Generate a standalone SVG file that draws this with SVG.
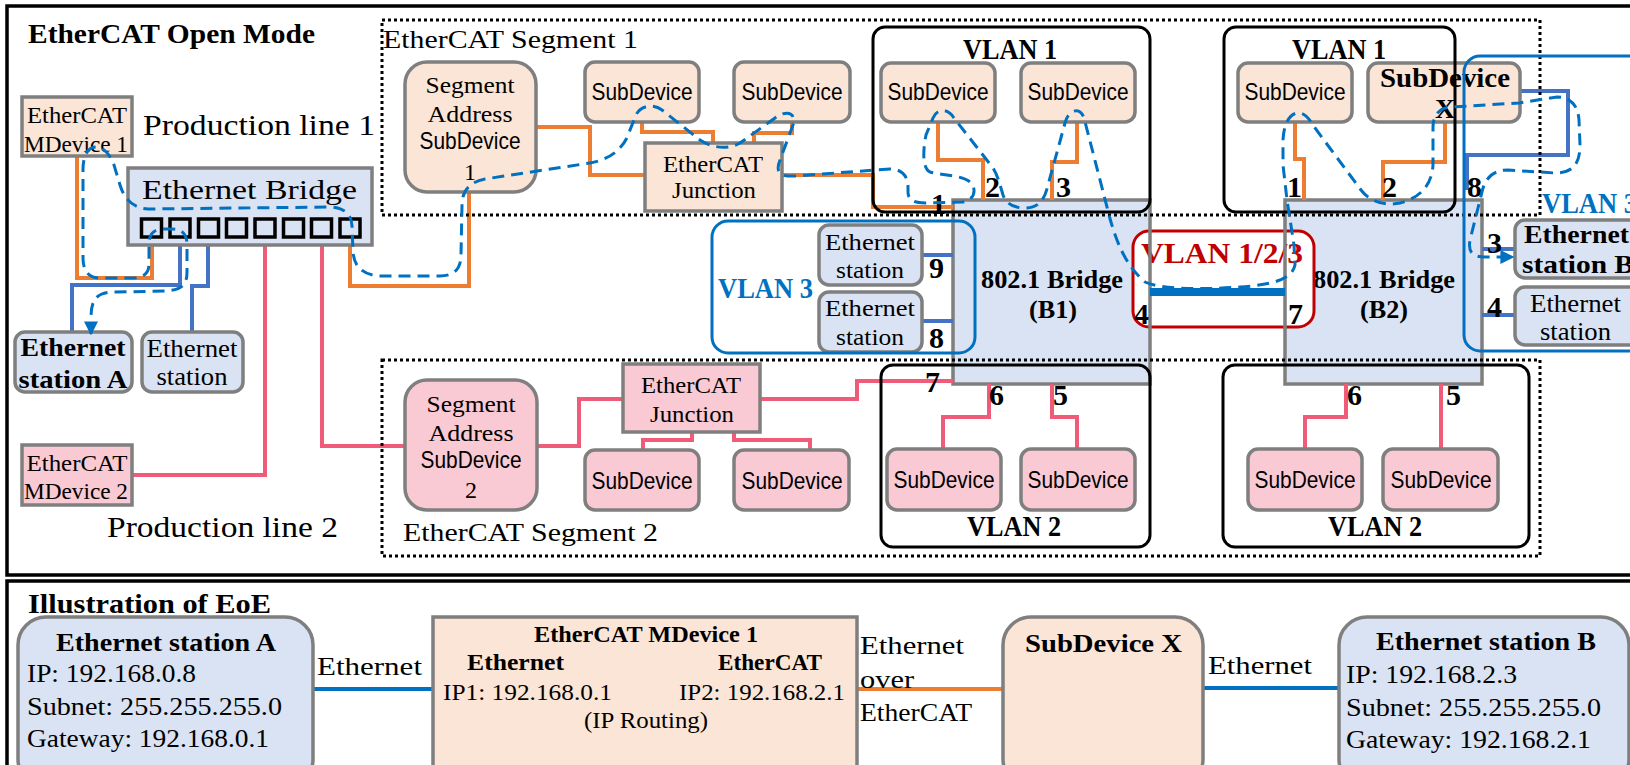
<svg xmlns="http://www.w3.org/2000/svg" width="1630" height="765" viewBox="0 0 1630 765">
<style>
.t{font-family:"Liberation Serif","Times New Roman",serif;fill:#000}
.s{font-family:"Liberation Sans",Arial,sans-serif;fill:#000}
.b{font-weight:bold}
.node{stroke:#7f7f7f;stroke-width:3.5}
.peach{fill:#fbe5d6}
.pink{fill:#f9cad3}
.lb{fill:#dae3f3}
.or{stroke:#ed7d31;stroke-width:4;fill:none}
.bl{stroke:#4472c4;stroke-width:4;fill:none}
.pk{stroke:#f05b7a;stroke-width:4;fill:none}
.dot{stroke:#000;stroke-width:3;stroke-dasharray:3 3;fill:none}
.vlan{stroke:#000;stroke-width:3;fill:none}
.vb{stroke:#0070c0;stroke-width:3;fill:none}
.flow{stroke:#0070c0;stroke-width:3;stroke-dasharray:12 7;fill:none}
.frame{stroke:#000;stroke-width:3.5;fill:none}
.port{stroke:#000;stroke-width:3.5;fill:none}
.num{font-family:"Liberation Serif","Times New Roman",serif;font-weight:bold;font-size:30px;fill:#000}
</style>
<defs>
<marker id="arr" viewBox="0 0 10 10" refX="9" refY="5" markerWidth="14" markerHeight="14" markerUnits="userSpaceOnUse" orient="auto-start-reverse">
<path d="M0,0 L10,5 L0,10 z" fill="#0070c0"/>
</marker>
</defs>
<rect width="1630" height="765" fill="#fff"/>
<!-- frames -->
<rect class="frame" x="7" y="6" width="1640" height="569"/>
<rect class="frame" x="7" y="581" width="1640" height="200"/>
<text class="t b" x="28" y="43" font-size="28" textLength="287" lengthAdjust="spacingAndGlyphs">EtherCAT Open Mode</text>
<text class="t" x="143" y="135" font-size="29" textLength="232" lengthAdjust="spacingAndGlyphs">Production line 1</text>
<text class="t" x="107" y="537" font-size="29" textLength="231" lengthAdjust="spacingAndGlyphs">Production line 2</text>
<text class="t" x="383" y="48" font-size="26" textLength="255" lengthAdjust="spacingAndGlyphs">EtherCAT Segment 1</text>
<text class="t" x="403" y="541" font-size="26" textLength="255" lengthAdjust="spacingAndGlyphs">EtherCAT Segment 2</text>

<!-- bridges fill + text -->
<g id="bridgeB1">
<rect x="953" y="200" width="197" height="184" class="lb"/>
<text class="t b" x="1052" y="288" font-size="25" text-anchor="middle" textLength="142" lengthAdjust="spacingAndGlyphs">802.1 Bridge</text>
<text class="t b" x="1053" y="318" font-size="25" text-anchor="middle" textLength="48" lengthAdjust="spacingAndGlyphs">(B1)</text>
</g>
<g id="bridgeB2">
<rect x="1285" y="200" width="197" height="184" class="lb"/>
<text class="t b" x="1384" y="288" font-size="25" text-anchor="middle" textLength="142" lengthAdjust="spacingAndGlyphs">802.1 Bridge</text>
<text class="t b" x="1384" y="318" font-size="25" text-anchor="middle" textLength="48" lengthAdjust="spacingAndGlyphs">(B2)</text>
</g>
<g id="vlan123">
<rect x="1133" y="231" width="181" height="96" rx="16" fill="#fff" stroke="#c00000" stroke-width="3"/>
<text class="t b" x="1141" y="263" font-size="29" style="fill:#c00000" textLength="162" lengthAdjust="spacingAndGlyphs">VLAN 1/2/3</text>
</g>
<rect x="953" y="200" width="197" height="184" fill="none" class="node"/>
<rect x="1285" y="200" width="197" height="184" fill="none" class="node"/>

<!-- connectors -->
<g id="connectors">
<path class="or" d="M77,156 V278 H152 V239"/>
<path class="bl" d="M180,239 V285 H72 V332"/>
<path class="bl" d="M208,239 V286 H192 V332"/>
<path class="pk" d="M265,239 V475 H132"/>
<path class="pk" d="M322,239 V446 H405"/>
<path class="or" d="M350,239 V286 H469 V192"/>
<path class="or" d="M536,127 H590 V175 H645"/>
<path class="or" d="M642,122 V132 H713 V143"/>
<path class="or" d="M792,122 V133 H754 V143"/>
<path class="or" d="M782,175 H873 V207 H953"/>
<path class="or" d="M938,122 V160 H983 V200"/>
<path class="or" d="M1077,122 V162 H1052 V200"/>
<path class="or" d="M1295,122 V159 H1304 V200"/>
<path class="or" d="M1445,122 V162 H1383 V200"/>
<path class="bl" d="M1520,91 H1568 V155 H1467 V190"/>
<path class="bl" d="M922,255 H953"/>
<path class="bl" d="M922,321 H953"/>
<path class="bl" d="M1482,249 H1515"/>
<path class="bl" d="M1482,315 H1515"/>
<path d="M1150,292 H1285" stroke="#0070c0" stroke-width="8" fill="none"/>
<path class="pk" d="M537,446 H579 V399 H623"/>
<path class="pk" d="M692,432 V440 H643 V450"/>
<path class="pk" d="M734,432 V440 H810 V450"/>
<path class="pk" d="M760,399 H857 V381 H953"/>
<path class="pk" d="M989,384 V417 H943 V449"/>
<path class="pk" d="M1052,384 V417 H1077 V449"/>
<path class="pk" d="M1346,384 V417 H1305 V449"/>
<path class="pk" d="M1441,384 V449"/>
<path d="M313,689 H433" stroke="#0070c0" stroke-width="4"/>
<path d="M857,689 H1003" stroke="#ed7d31" stroke-width="4"/>
<path d="M1203,688 H1339" stroke="#0070c0" stroke-width="4"/>
</g>

<!-- nodes -->
<g id="mdevice1">
<rect x="22" y="97" width="110" height="59" class="node peach"/>
<text class="t" x="77" y="123" font-size="24" text-anchor="middle" textLength="100" lengthAdjust="spacingAndGlyphs">EtherCAT</text>
<text class="t" x="76" y="152" font-size="24" text-anchor="middle" textLength="104" lengthAdjust="spacingAndGlyphs">MDevice 1</text>
</g>
<g id="mdevice2">
<rect x="22" y="445" width="110" height="60" class="node pink"/>
<text class="t" x="77" y="471" font-size="24" text-anchor="middle" textLength="101" lengthAdjust="spacingAndGlyphs">EtherCAT</text>
<text class="t" x="76" y="499" font-size="24" text-anchor="middle" textLength="104" lengthAdjust="spacingAndGlyphs">MDevice 2</text>
</g>
<g id="ethbridge">
<rect x="128" y="168" width="244" height="77" class="node lb"/>
<text class="t" x="142" y="199" font-size="28" textLength="215" lengthAdjust="spacingAndGlyphs">Ethernet Bridge</text>
<rect class="port" x="141.5" y="219" width="20" height="18"/>
<rect class="port" x="170" y="219" width="20" height="18"/>
<rect class="port" x="198.5" y="219" width="20" height="18"/>
<rect class="port" x="226.5" y="219" width="20" height="18"/>
<rect class="port" x="255" y="219" width="20" height="18"/>
<rect class="port" x="283.5" y="219" width="20" height="18"/>
<rect class="port" x="311.5" y="219" width="20" height="18"/>
<rect class="port" x="340" y="219" width="20" height="18"/>
</g>
<g id="stationA">
<rect x="15" y="332" width="117" height="60" rx="10" class="node lb"/>
<text class="t b" x="73" y="356" font-size="26" text-anchor="middle" textLength="105" lengthAdjust="spacingAndGlyphs">Ethernet</text>
<text class="t b" x="73" y="388" font-size="26" text-anchor="middle" textLength="109" lengthAdjust="spacingAndGlyphs">station A</text>
</g>
<g id="station1">
<rect x="142" y="332" width="101" height="60" rx="10" class="node lb"/>
<text class="t" x="192" y="357" font-size="26" text-anchor="middle" textLength="91" lengthAdjust="spacingAndGlyphs">Ethernet</text>
<text class="t" x="192" y="385" font-size="26" text-anchor="middle" textLength="71" lengthAdjust="spacingAndGlyphs">station</text>
</g>
<g id="segaddr1">
<rect x="405" y="62" width="131" height="130" rx="22" class="node peach"/>
<text class="t" x="470" y="93" font-size="24" text-anchor="middle" textLength="89" lengthAdjust="spacingAndGlyphs">Segment</text>
<text class="t" x="470" y="122" font-size="24" text-anchor="middle" textLength="85" lengthAdjust="spacingAndGlyphs">Address</text>
<text class="s" x="470" y="149" font-size="24" text-anchor="middle" textLength="101" lengthAdjust="spacingAndGlyphs">SubDevice</text>
<text class="t" x="470" y="180" font-size="24" text-anchor="middle">1</text>
</g>
<g id="sub1a">
<rect x="585" y="62" width="114" height="60" rx="10" class="node peach"/>
<text class="s" x="642" y="100" font-size="24" text-anchor="middle" textLength="101" lengthAdjust="spacingAndGlyphs">SubDevice</text>
</g>
<g id="sub1b">
<rect x="734" y="62" width="116" height="60" rx="10" class="node peach"/>
<text class="s" x="792" y="100" font-size="24" text-anchor="middle" textLength="101" lengthAdjust="spacingAndGlyphs">SubDevice</text>
</g>
<g id="junction1">
<rect x="645" y="143" width="137" height="68" class="node peach"/>
<text class="t" x="713" y="172" font-size="24" text-anchor="middle" textLength="100" lengthAdjust="spacingAndGlyphs">EtherCAT</text>
<text class="t" x="714" y="198" font-size="24" text-anchor="middle" textLength="84" lengthAdjust="spacingAndGlyphs">Junction</text>
</g>
<g id="b1sub1">
<rect x="881" y="63" width="114" height="59" rx="10" class="node peach"/>
<text class="s" x="938" y="100" font-size="24" text-anchor="middle" textLength="101" lengthAdjust="spacingAndGlyphs">SubDevice</text>
</g>
<g id="b1sub2">
<rect x="1021" y="63" width="114" height="59" rx="10" class="node peach"/>
<text class="s" x="1078" y="100" font-size="24" text-anchor="middle" textLength="101" lengthAdjust="spacingAndGlyphs">SubDevice</text>
</g>
<g id="b2sub1">
<rect x="1238" y="63" width="114" height="59" rx="10" class="node peach"/>
<text class="s" x="1295" y="100" font-size="24" text-anchor="middle" textLength="101" lengthAdjust="spacingAndGlyphs">SubDevice</text>
</g>
<g id="subX">
<rect x="1368" y="63" width="152" height="59" rx="10" class="node peach"/>
<text class="t b" x="1380" y="87" font-size="28" textLength="130" lengthAdjust="spacingAndGlyphs">SubDevice</text>
<text class="t b" x="1445" y="118" font-size="28" text-anchor="middle">X</text>
</g>
<g id="st9">
<rect x="819" y="225" width="103" height="60" rx="10" class="node lb"/>
<text class="t" x="870" y="250" font-size="24" text-anchor="middle" textLength="90" lengthAdjust="spacingAndGlyphs">Ethernet</text>
<text class="t" x="870" y="278" font-size="24" text-anchor="middle" textLength="68" lengthAdjust="spacingAndGlyphs">station</text>
</g>
<g id="st8">
<rect x="819" y="292" width="103" height="60" rx="10" class="node lb"/>
<text class="t" x="870" y="316" font-size="24" text-anchor="middle" textLength="90" lengthAdjust="spacingAndGlyphs">Ethernet</text>
<text class="t" x="870" y="345" font-size="24" text-anchor="middle" textLength="68" lengthAdjust="spacingAndGlyphs">station</text>
</g>
<g id="stationB">
<rect x="1515" y="220" width="140" height="58" rx="10" class="node lb"/>
<text class="t b" x="1524" y="243" font-size="26" textLength="105" lengthAdjust="spacingAndGlyphs">Ethernet</text>
<text class="t b" x="1522" y="273" font-size="26" textLength="112" lengthAdjust="spacingAndGlyphs">station B</text>
</g>
<g id="st4">
<rect x="1515" y="287" width="140" height="58" rx="10" class="node lb"/>
<text class="t" x="1530" y="312" font-size="26" textLength="91" lengthAdjust="spacingAndGlyphs">Ethernet</text>
<text class="t" x="1540" y="340" font-size="26" textLength="71" lengthAdjust="spacingAndGlyphs">station</text>
</g>
<g id="segaddr2">
<rect x="405" y="380" width="132" height="130" rx="22" class="node pink"/>
<text class="t" x="471" y="412" font-size="24" text-anchor="middle" textLength="89" lengthAdjust="spacingAndGlyphs">Segment</text>
<text class="t" x="471" y="441" font-size="24" text-anchor="middle" textLength="85" lengthAdjust="spacingAndGlyphs">Address</text>
<text class="s" x="471" y="468" font-size="24" text-anchor="middle" textLength="101" lengthAdjust="spacingAndGlyphs">SubDevice</text>
<text class="t" x="471" y="498" font-size="24" text-anchor="middle">2</text>
</g>
<g id="junction2">
<rect x="623" y="364" width="137" height="68" class="node pink"/>
<text class="t" x="691" y="393" font-size="24" text-anchor="middle" textLength="100" lengthAdjust="spacingAndGlyphs">EtherCAT</text>
<text class="t" x="692" y="422" font-size="24" text-anchor="middle" textLength="84" lengthAdjust="spacingAndGlyphs">Junction</text>
</g>
<g id="sub2a">
<rect x="585" y="450" width="114" height="60" rx="10" class="node pink"/>
<text class="s" x="642" y="489" font-size="24" text-anchor="middle" textLength="101" lengthAdjust="spacingAndGlyphs">SubDevice</text>
</g>
<g id="sub2b">
<rect x="734" y="450" width="115" height="60" rx="10" class="node pink"/>
<text class="s" x="792" y="489" font-size="24" text-anchor="middle" textLength="101" lengthAdjust="spacingAndGlyphs">SubDevice</text>
</g>
<g id="b1sub3">
<rect x="887" y="449" width="114" height="61" rx="10" class="node pink"/>
<text class="s" x="944" y="488" font-size="24" text-anchor="middle" textLength="101" lengthAdjust="spacingAndGlyphs">SubDevice</text>
</g>
<g id="b1sub4">
<rect x="1021" y="449" width="114" height="61" rx="10" class="node pink"/>
<text class="s" x="1078" y="488" font-size="24" text-anchor="middle" textLength="101" lengthAdjust="spacingAndGlyphs">SubDevice</text>
</g>
<g id="b2sub3">
<rect x="1248" y="449" width="114" height="61" rx="10" class="node pink"/>
<text class="s" x="1305" y="488" font-size="24" text-anchor="middle" textLength="101" lengthAdjust="spacingAndGlyphs">SubDevice</text>
</g>
<g id="b2sub4">
<rect x="1383" y="449" width="115" height="61" rx="10" class="node pink"/>
<text class="s" x="1441" y="488" font-size="24" text-anchor="middle" textLength="101" lengthAdjust="spacingAndGlyphs">SubDevice</text>
</g>

<!-- group boxes -->
<g id="groups">
<rect class="dot" x="382" y="20" width="1158" height="195"/>
<rect class="dot" x="382" y="360" width="1158" height="196"/>
<rect class="vlan" x="873" y="27" width="277" height="185" rx="12"/>
<rect class="vlan" x="1224" y="27" width="231" height="185" rx="12"/>
<rect class="vlan" x="881" y="365" width="269" height="182" rx="12"/>
<rect class="vlan" x="1223" y="365" width="306" height="182" rx="12"/>
<rect class="vb" x="712" y="221" width="263" height="132" rx="16"/>
<rect class="vb" x="1464" y="56" width="200" height="295" rx="16"/>
<text class="t b" x="963" y="59" font-size="29" textLength="94" lengthAdjust="spacingAndGlyphs">VLAN 1</text>
<text class="t b" x="1292" y="59" font-size="29" textLength="94" lengthAdjust="spacingAndGlyphs">VLAN 1</text>
<text class="t b" x="967" y="536" font-size="29" textLength="94" lengthAdjust="spacingAndGlyphs">VLAN 2</text>
<text class="t b" x="1328" y="536" font-size="29" textLength="94" lengthAdjust="spacingAndGlyphs">VLAN 2</text>
<text class="t b" x="718" y="298" font-size="29" style="fill:#0070c0" textLength="95" lengthAdjust="spacingAndGlyphs">VLAN 3</text>
<text class="t b" x="1542" y="213" font-size="29" style="fill:#0070c0" textLength="95" lengthAdjust="spacingAndGlyphs">VLAN 3</text>
</g>

<!-- port numbers -->
<g id="portlabels">
<text class="num" x="931" y="214">1</text>
<text class="num" x="985" y="197">2</text>
<text class="num" x="1056" y="197">3</text>
<text class="num" x="929" y="278">9</text>
<text class="num" x="929" y="348">8</text>
<text class="num" x="1134" y="324">4</text>
<text class="num" x="925" y="392">7</text>
<text class="num" x="989" y="405">6</text>
<text class="num" x="1053" y="405">5</text>
<text class="num" x="1287" y="197">1</text>
<text class="num" x="1382" y="197">2</text>
<text class="num" x="1467" y="197">8</text>
<text class="num" x="1487" y="253">3</text>
<text class="num" x="1487" y="317">4</text>
<text class="num" x="1288" y="324">7</text>
<text class="num" x="1347" y="405">6</text>
<text class="num" x="1446" y="405">5</text>
</g>

<!-- flow -->
<path class="flow" marker-start="url(#arr)" marker-end="url(#arr)" d="M91,334 L91,318 C91,300 96,292 115,292 L165,291 C182,290 187,285 187,272 L187,245 C187,234 182,229 172,229 L164,229 C154,229 149,234 149,244 L149,264 C149,274 143,278 132,278 L100,278 C88,278 83,270 83,258 L83,170 C83,155 88,147 96,147 C104,147 110,155 114,165 L120,185 C124,198 132,208 148,209 L330,207 C343,207 352,214 352,226 L353,252 C354,266 362,275 380,276 L440,276 C455,276 461,268 461,255 L462,205 C462,190 470,182 485,179 L590,163 C612,159 625,147 630,130 L636,115 C640,106 653,103 662,110 L700,140 C712,148 728,150 740,143 L775,118 C785,110 797,112 793,125 L780,160 C775,172 780,177 795,176 L890,169 C903,169 908,177 908,188 L908,192 C908,200 914,203 925,203 L962,202 C975,201 977,188 970,182 C962,175 940,175 930,172 C922,168 923,150 926,135 L933,118 C937,108 948,108 954,118 L993,168 C998,176 1000,185 1003,195 C1007,205 1015,208 1025,208 C1040,208 1045,198 1048,185 L1065,123 C1068,110 1080,106 1084,118 L1107,207 C1115,240 1125,265 1145,282 C1160,289 1200,290 1240,287 C1270,285 1292,280 1295,265 L1294,245 L1287,200 L1283,165 L1283,140 C1284,120 1292,112 1300,113 C1306,114 1310,120 1315,128 L1361,190 C1370,202 1385,206 1400,203 C1420,198 1432,185 1433,165 L1433,127 C1433,115 1440,107 1452,107 L1519,103 L1557,97 C1570,97 1578,105 1579,120 L1580,145 C1580,165 1572,173 1555,173 L1508,170 C1493,170 1485,178 1482,192 L1475,220 L1470,240 C1468,252 1472,257 1485,257 L1513,257"/>

<!-- bottom section -->
<text class="t b" x="28" y="613" font-size="27" textLength="243" lengthAdjust="spacingAndGlyphs">Illustration of EoE</text>
<g id="eoeStationA">
<rect x="18" y="617" width="295" height="170" rx="28" class="node lb"/>
<text class="t b" x="56" y="651" font-size="26" textLength="220" lengthAdjust="spacingAndGlyphs">Ethernet station A</text>
<text class="t" x="27" y="682" font-size="26" textLength="169" lengthAdjust="spacingAndGlyphs">IP: 192.168.0.8</text>
<text class="t" x="27" y="715" font-size="26" textLength="255" lengthAdjust="spacingAndGlyphs">Subnet: 255.255.255.0</text>
<text class="t" x="27" y="747" font-size="26" textLength="242" lengthAdjust="spacingAndGlyphs">Gateway: 192.168.0.1</text>
</g>
<text class="t" x="317" y="675" font-size="26" textLength="105" lengthAdjust="spacingAndGlyphs">Ethernet</text>
<g id="eoeMDevice">
<rect x="433" y="617" width="424" height="170" class="node peach"/>
<text class="t b" x="534" y="642" font-size="24" textLength="224" lengthAdjust="spacingAndGlyphs">EtherCAT MDevice 1</text>
<text class="t b" x="467" y="670" font-size="24" textLength="97" lengthAdjust="spacingAndGlyphs">Ethernet</text>
<text class="t b" x="718" y="670" font-size="24" textLength="104" lengthAdjust="spacingAndGlyphs">EtherCAT</text>
<text class="t" x="443" y="700" font-size="24" textLength="169" lengthAdjust="spacingAndGlyphs">IP1: 192.168.0.1</text>
<text class="t" x="679" y="700" font-size="24" textLength="166" lengthAdjust="spacingAndGlyphs">IP2: 192.168.2.1</text>
<text class="t" x="584" y="728" font-size="24" textLength="124" lengthAdjust="spacingAndGlyphs">(IP Routing)</text>
</g>
<text class="t" x="860" y="654" font-size="26" textLength="104" lengthAdjust="spacingAndGlyphs">Ethernet</text>
<text class="t" x="860" y="688" font-size="26" textLength="54" lengthAdjust="spacingAndGlyphs">over</text>
<text class="t" x="860" y="721" font-size="26" textLength="112" lengthAdjust="spacingAndGlyphs">EtherCAT</text>
<g id="eoeSubX">
<rect x="1003" y="617" width="200" height="170" rx="28" class="node peach"/>
<text class="t b" x="1025" y="652" font-size="26" textLength="157" lengthAdjust="spacingAndGlyphs">SubDevice X</text>
</g>
<text class="t" x="1208" y="674" font-size="26" textLength="104" lengthAdjust="spacingAndGlyphs">Ethernet</text>
<g id="eoeStationB">
<rect x="1339" y="617" width="290" height="170" rx="28" class="node lb"/>
<text class="t b" x="1376" y="650" font-size="26" textLength="220" lengthAdjust="spacingAndGlyphs">Ethernet station B</text>
<text class="t" x="1346" y="683" font-size="26" textLength="171" lengthAdjust="spacingAndGlyphs">IP: 192.168.2.3</text>
<text class="t" x="1346" y="716" font-size="26" textLength="255" lengthAdjust="spacingAndGlyphs">Subnet: 255.255.255.0</text>
<text class="t" x="1346" y="748" font-size="26" textLength="245" lengthAdjust="spacingAndGlyphs">Gateway: 192.168.2.1</text>
</g>
</svg>
